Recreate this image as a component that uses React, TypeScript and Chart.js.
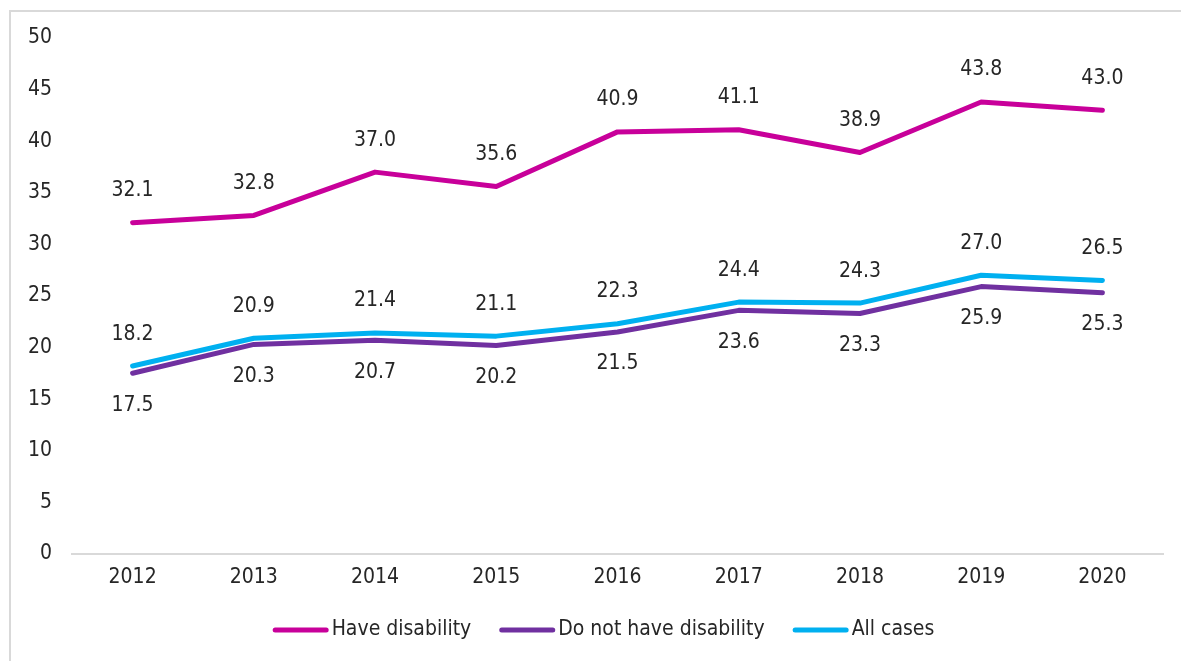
import React, { useEffect, useRef } from "react";
import { Chart, registerables } from "chart.js";

Chart.register(...registerables);

const years = ["2012", "2013", "2014", "2015", "2016", "2017", "2018", "2019", "2020"];
const haveDisability = [32.1, 32.8, 37.0, 35.6, 40.9, 41.1, 38.9, 43.8, 43.0];
const noDisability = [17.5, 20.3, 20.7, 20.2, 21.5, 23.6, 23.3, 25.9, 25.3];
const allCases = [18.2, 20.9, 21.4, 21.1, 22.3, 24.4, 24.3, 27.0, 26.5];
const seriesNames = ["Have disability", "Do not have disability", "All cases"];
const seriesColors = ["#C8009A", "#7030A0", "#00B0F0"];
const labelSides = ["above", "below", "above"];
const yMin = 0;
const yMax = 50;
const yStep = 5;

const FAMILY = "'DejaVu Sans Condensed', 'DejaVu Sans', sans-serif";
const FONT_SIZE = 21;
const TEXT_COLOR = "#262626";

const dataLabelPlugin = {
  id: "dataLabels",
  afterDatasetsDraw(chart: any) {
    const ctx = chart.ctx;
    ctx.save();
    ctx.font = `${FONT_SIZE}px ${FAMILY}`;
    ctx.fillStyle = TEXT_COLOR;
    ctx.textAlign = "center";
    ctx.textBaseline = "middle";
    chart.data.datasets.forEach((ds: any, i: number) => {
      const meta = chart.getDatasetMeta(i);
      const off = labelSides[i] === "above" ? -32 : 32;
      meta.data.forEach((pt: any, j: number) => {
        ctx.fillText(Number(ds.data[j]).toFixed(1), pt.x, pt.y + off);
      });
    });
    ctx.restore();
  },
};

const legendPlugin = {
  id: "customLegend",
  afterDraw(chart: any) {
    const ctx = chart.ctx;
    ctx.save();
    ctx.font = `${FONT_SIZE}px ${FAMILY}`;
    const sample = 56;
    const gapText = 3;
    const gapItem = 28;
    const items = chart.data.datasets.map((ds: any) => ({
      text: ds.label,
      color: ds.borderColor,
      w: ctx.measureText(ds.label).width,
    }));
    const total =
      items.reduce((s: number, it: any) => s + sample + gapText + it.w, 0) +
      gapItem * (items.length - 1);
    const centerX = 592.5;
    const y = 618;
    let x = centerX - total / 2;
    items.forEach((it: any) => {
      ctx.strokeStyle = it.color;
      ctx.lineWidth = 5;
      ctx.lineCap = "round";
      ctx.beginPath();
      ctx.moveTo(x + 2.5, y);
      ctx.lineTo(x + sample - 2.5, y);
      ctx.stroke();
      ctx.fillStyle = TEXT_COLOR;
      ctx.textAlign = "left";
      ctx.textBaseline = "middle";
      ctx.fillText(it.text, x + sample + gapText, y);
      x += sample + gapText + it.w + gapItem;
    });
    ctx.restore();
  },
};

export default function App() {
  const canvasRef = useRef<HTMLCanvasElement | null>(null);

  useEffect(() => {
    if (!canvasRef.current) return;
    const seriesData = [haveDisability, noDisability, allCases];
    const chart = new Chart(canvasRef.current, {
      type: "line",
      data: {
        labels: years,
        datasets: seriesData.map((d, i) => ({
          label: seriesNames[i],
          data: d,
          borderColor: seriesColors[i],
          backgroundColor: seriesColors[i],
          borderWidth: 5,
          borderCapStyle: "round",
          borderJoinStyle: "round",
          pointRadius: 0,
          pointHoverRadius: 0,
          tension: 0,
          fill: false,
        })),
      },
      options: {
        responsive: false,
        devicePixelRatio: 1,
        animation: false,
        layout: { padding: { top: 26, right: 18, left: 0, bottom: 60 } },
        plugins: {
          legend: { display: false },
          tooltip: { enabled: false },
          title: { display: false },
        },
        scales: {
          x: {
            offset: true,
            grid: { display: false, drawTicks: false },
            border: { display: true, color: "#d9d9d9", width: 2 },
            ticks: {
              color: TEXT_COLOR,
              font: { family: FAMILY, size: FONT_SIZE },
              padding: 11,
              maxRotation: 0,
            },
          },
          y: {
            min: yMin,
            max: yMax,
            grid: { display: false, drawTicks: false },
            border: { display: false },
            ticks: {
              stepSize: yStep,
              color: TEXT_COLOR,
              font: { family: FAMILY, size: FONT_SIZE },
              padding: 20,
            },
            afterFit: (scale: any) => {
              scale.width = 61;
              scale.paddingTop = 0;
              scale.paddingBottom = 0;
            },
          },
        },
      },
      plugins: [dataLabelPlugin, legendPlugin],
    } as any);
    return () => chart.destroy();
  }, []);

  return (
    <div
      style={{
        position: "fixed",
        left: 9,
        top: 10,
        width: 1200,
        height: 700,
        boxSizing: "border-box",
        borderLeft: "2px solid #d9d9d9",
        borderTop: "2px solid #d9d9d9",
        background: "#fff",
      }}
    >
      <canvas ref={canvasRef} width={1170} height={649} style={{ display: "block" }} />
    </div>
  );
}
